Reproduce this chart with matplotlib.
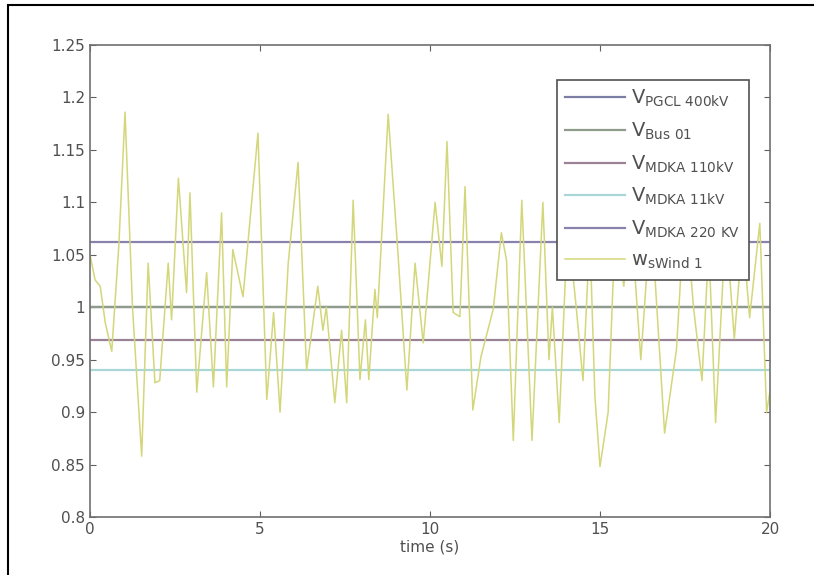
import matplotlib
matplotlib.use("Agg")
import matplotlib.pyplot as plt
from matplotlib.patches import Rectangle

plt.rcParams['mathtext.fontset'] = 'dejavusans'

# wind speed trace (peaks and troughs)
t_wind = [0.0, 0.15, 0.3, 0.45, 0.64, 0.85, 1.03, 1.25, 1.52, 1.71, 1.91, 2.05,
          2.3, 2.4, 2.6, 2.84, 2.94, 3.14, 3.43, 3.63, 3.87, 4.02, 4.2, 4.5,
          4.94, 5.2, 5.4, 5.59, 5.83, 6.12, 6.37, 6.7, 6.85, 6.95, 7.2, 7.4,
          7.55, 7.74, 7.94, 8.1, 8.2, 8.38, 8.45, 8.77, 9.05, 9.32, 9.56, 9.8,
          10.15, 10.35, 10.5, 10.68, 10.88, 11.03, 11.26, 11.5, 11.86, 12.1,
          12.25, 12.45, 12.7, 13.0, 13.32, 13.5, 13.6, 13.8, 14.05, 14.3, 14.5,
          14.7, 14.85, 15.0, 15.24, 15.45, 15.7, 15.9, 16.2, 16.5, 16.9, 17.25,
          17.5, 17.75, 18.0, 18.2, 18.4, 18.7, 18.95, 19.2, 19.4, 19.7, 19.9, 20.0]
v_wind = [1.05, 1.026, 1.02, 0.985, 0.958, 1.06, 1.186, 1.0, 0.858, 1.042, 0.928, 0.93,
          1.042, 0.988, 1.123, 1.014, 1.109, 0.919, 1.033, 0.924, 1.09, 0.924, 1.055, 1.01,
          1.166, 0.912, 0.995, 0.9, 1.042, 1.138, 0.94, 1.02, 0.978, 1.0, 0.909, 0.978,
          0.909, 1.102, 0.931, 0.988, 0.931, 1.017, 0.99, 1.184, 1.055, 0.921, 1.042, 0.966,
          1.1, 1.039, 1.158, 0.995, 0.991, 1.115, 0.902, 0.953, 0.998, 1.071,
          1.045, 0.873, 1.102, 0.873, 1.1, 0.95, 1.0, 0.89, 1.08, 1.0, 0.93,
          1.07, 0.915, 0.848, 0.9, 1.08, 1.02, 1.09, 0.95, 1.09, 0.88, 0.96,
          1.1, 1.0, 0.93, 1.06, 0.89, 1.08, 0.97, 1.07, 0.99, 1.08, 0.9, 0.92]

# constant bus voltages
bus_names = [r'V$_{\mathrm{PGCL\ 400kV}}$', r'V$_{\mathrm{Bus\ 01}}$',
             r'V$_{\mathrm{MDKA\ 110kV}}$', r'V$_{\mathrm{MDKA\ 11kV}}$',
             r'V$_{\mathrm{MDKA\ 220\ KV}}$']
bus_values = [1.0, 1.0, 0.969, 0.94, 1.062]
bus_colors = ['#7c7ea6', '#8f9c8c', '#9c8296', '#a9d6d6', '#8a82ac']
wind_label = r'w$_{\mathrm{sWind\ 1}}$'
wind_color = '#d3d77a'

t_range = [0, 20]

fig = plt.figure(figsize=(8.14, 5.75), dpi=100)
fig.patch.set_facecolor('white')
# page border (right and bottom edges fall outside the crop)
fig.add_artist(Rectangle((8/814, -0.1), 1.2, 1.1 - 5/575, transform=fig.transFigure,
                         fill=False, edgecolor='black', linewidth=1.5))

ax = fig.add_axes([90/814, 1 - 517/575, 680/814, 472/575])

for name, val, col in zip(bus_names, bus_values, bus_colors):
    ax.plot(t_range, [val, val], color=col, linewidth=1.6, label=name)
ax.plot(t_wind, v_wind, color=wind_color, linewidth=1.1, label=wind_label)

ax.set_xlim(0, 20)
ax.set_ylim(0.8, 1.25)
ax.set_xticks([0, 5, 10, 15, 20])
ax.set_yticks([0.8, 0.85, 0.9, 0.95, 1.0, 1.05, 1.1, 1.15, 1.2, 1.25])
ax.set_yticklabels(['0.8', '0.85', '0.9', '0.95', '1', '1.05', '1.1', '1.15', '1.2', '1.25'])
ax.tick_params(direction='in', top=True, right=True, colors='#606060',
               labelcolor='#505050', labelsize=11, length=4)
for s in ax.spines.values():
    s.set_color('#707070')
    s.set_linewidth(1.2)
ax.set_xlabel('time (s)', fontsize=11, color='#505050', labelpad=2)

leg = ax.legend(loc='upper left', bbox_to_anchor=(557/814, 1 - 80/575),
                bbox_transform=fig.transFigure, borderaxespad=0, fontsize=14,
                handlelength=3.1, labelspacing=0.58, fancybox=False, framealpha=1,
                edgecolor='#505050', borderpad=0.42, handletextpad=0.3)
leg.get_frame().set_linewidth(1.2)
for txt in leg.get_texts():
    txt.set_color('#505050')

fig.savefig('out.png', dpi=100)
